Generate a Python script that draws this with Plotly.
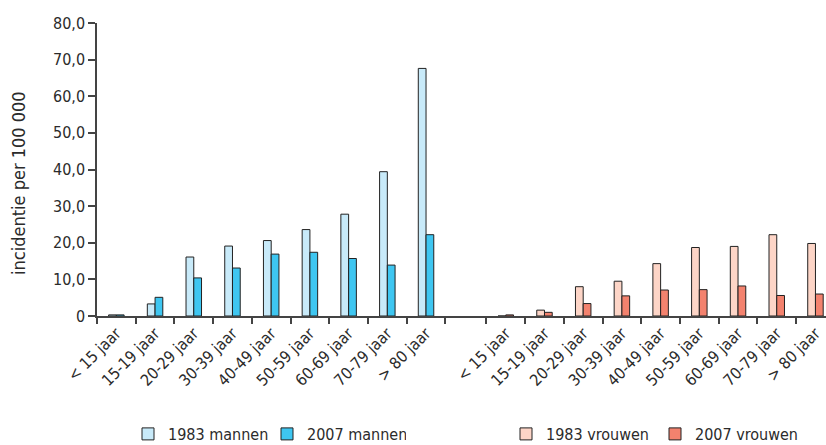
import plotly.graph_objects as go

age_groups = ["< 15 jaar", "15-19 jaar", "20-29 jaar", "30-39 jaar", "40-49 jaar",
              "50-59 jaar", "60-69 jaar", "70-79 jaar", "> 80 jaar"]

men_1983 = [0.3, 3.3, 16.1, 19.1, 20.6, 23.6, 27.8, 39.4, 67.6]
men_2007 = [0.3, 5.1, 10.4, 13.1, 16.9, 17.4, 15.7, 13.9, 22.2]
women_1983 = [0.0, 1.6, 8.0, 9.5, 14.3, 18.7, 19.0, 22.2, 19.8]
women_2007 = [0.3, 1.0, 3.4, 5.5, 7.1, 7.2, 8.2, 5.6, 6.0]

y_tick_vals = [0, 10, 20, 30, 40, 50, 60, 70, 80]
y_tick_text = ["0", "10,0", "20,0", "30,0", "40,0", "50,0", "60,0", "70,0", "80,0"]

FONT = "Liberation Sans Narrow, DejaVu Sans Condensed, Arial Narrow, sans-serif"
TXT = "#2b2b2b"

W, H = 826, 445
L, R, T, B = 97, 0, 23, 129

n = len(age_groups)
gap = 1.06
x_men = [i for i in range(n)]
x_women = [n + gap + i for i in range(n)]

bw = 0.2
line = dict(color="#222222", width=1)

fig = go.Figure()
fig.add_trace(go.Bar(x=x_men, y=men_1983, width=bw, offset=-bw, name="1983 mannen",
                     marker=dict(color="#c8eaf9", line=line), legend="legend"))
fig.add_trace(go.Bar(x=x_men, y=men_2007, width=bw, offset=0, name="2007 mannen",
                     marker=dict(color="#3ec6f1", line=line), legend="legend"))
fig.add_trace(go.Bar(x=x_women, y=women_1983, width=bw, offset=-bw, name="1983 vrouwen",
                     marker=dict(color="#fdd5c7", line=line), legend="legend2"))
fig.add_trace(go.Bar(x=x_women, y=women_2007, width=bw, offset=0, name="2007 vrouwen",
                     marker=dict(color="#f3826e", line=line), legend="legend2"))

boundaries = [i - 0.5 for i in range(n + 1)] + [x_women[0] - 0.5 + i for i in range(n + 1)]

pw = W - L - R
ph = H - T - B
leg_y = ((H - B) - 434) / ph

fig.update_layout(
    width=W, height=H,
    margin=dict(l=L, r=R, t=T, b=B, autoexpand=False),
    paper_bgcolor="white", plot_bgcolor="white",
    barmode="overlay",
    font=dict(family=FONT, color=TXT, size=16),
    xaxis=dict(
        range=[-0.5, pw / 38.71 - 0.5],
        tickvals=x_men + x_women,
        ticktext=age_groups + age_groups,
        tickangle=-45, ticks="", ticklen=0,
        showline=True, linecolor="#444444", linewidth=1.5,
        showgrid=False, zeroline=False, automargin=False,
        tickfont=dict(size=16),
        minor=dict(tickvals=boundaries, ticks="outside", ticklen=6,
                   tickcolor="#444444", tickwidth=1.5, showgrid=False),
    ),
    yaxis=dict(
        range=[0, 80],
        tickvals=y_tick_vals, ticktext=y_tick_text,
        ticks="outside", ticklen=7, tickcolor="#444444", tickwidth=1.5,
        showline=True, linecolor="#444444", linewidth=1.5,
        showgrid=False, zeroline=False, automargin=False,
        tickfont=dict(size=16),
    ),
    showlegend=True,
    legend=dict(orientation="h", x=(128 - L) / pw, y=leg_y, xref="paper", yref="paper",
                xanchor="left", yanchor="middle", font=dict(size=16),
                itemwidth=30, entrywidth=94, bgcolor="rgba(0,0,0,0)"),
    legend2=dict(orientation="h", x=(506 - L) / pw, y=leg_y, xref="paper", yref="paper",
                 xanchor="left", yanchor="middle", font=dict(size=16),
                 itemwidth=30, entrywidth=104, bgcolor="rgba(0,0,0,0)"),
    annotations=[dict(text="incidentie per 100 000",
                      x=(18 - L) / pw, y=(H - B - 183) / ph,
                      xref="paper", yref="paper", xanchor="center", yanchor="middle",
                      showarrow=False, textangle=-90, font=dict(size=18))],
)

fig.write_html(
    "out.html",
    config={"displayModeBar": False},
    post_script="document.body.style.margin='0';document.body.style.overflow='hidden';",
)
